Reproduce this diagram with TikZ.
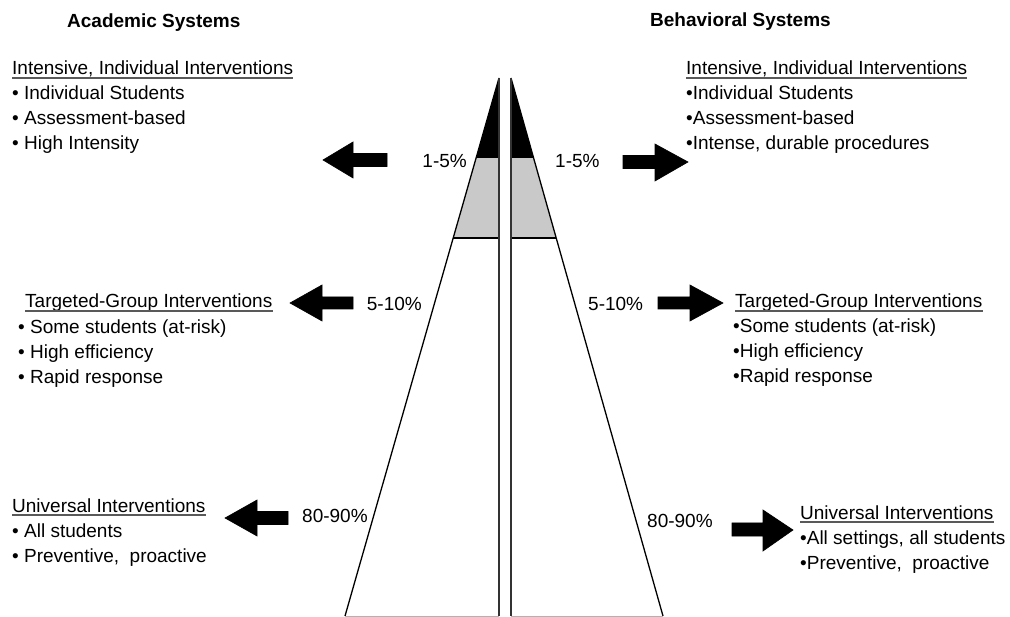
\documentclass[tikz,border=0pt]{standalone}
\usepackage{fontspec}
\setmainfont{Liberation Sans}
\begin{document}
\begin{tikzpicture}[x=1pt,y=-1pt,
  txt/.style={anchor=base west, inner sep=0pt, font=\fontsize{19}{22}\selectfont},
  txte/.style={anchor=base east, inner sep=0pt, font=\fontsize{19}{22}\selectfont},
  ttl/.style={anchor=base west, inner sep=0pt, font=\fontsize{19}{22}\selectfont\bfseries},
  uline/.style={draw=black!65, line width=1.3pt},
  edge/.style={draw=black, line width=1.3pt, line join=miter},
  inner/.style={draw=black!80, line width=2pt},
  barrow/.style={fill=black, draw=black, line width=0.6pt, line join=miter}]
\useasboundingbox (0,0) rectangle (1010,617);

% ---- pyramid, left half ----
\fill[black] (499,78) -- (499,157) -- (476.4,157) -- cycle;
\fill[black!21] (476.4,157) -- (499,157) -- (499,238) -- (453.2,238) -- cycle;
\draw[edge] (499,78) -- (345,616);
\draw[edge] (476.4,157) -- (499,157);
\draw[edge] (453.2,238) -- (499,238);
\draw[inner] (499,78) -- (499,616);
\draw[black!30, line width=1pt] (345,616) -- (499,616);
% ---- pyramid, right half ----
\fill[black] (511,78) -- (511,157) -- (533.3,157) -- cycle;
\fill[black!21] (533.3,157) -- (511,157) -- (511,238) -- (556.2,238) -- cycle;
\draw[edge] (511,78) -- (663,616);
\draw[edge] (533.3,157) -- (511,157);
\draw[edge] (556.2,238) -- (511,238);
\draw[inner] (511,78) -- (511,616);
\draw[black!30, line width=1pt] (511,616) -- (663,616);

% ---- titles ----
\node[ttl] (tA) at (67,28) {Academic Systems};
\node[ttl] (tB) at (650,27) {Behavioral Systems};

% ---- percentages ----
\node[txte] (pL1) at (467,168) {1-5\%};
\node[txt]  (pR1) at (555,168) {1-5\%};
\node[txte] (pL2) at (422,311) {5-10\%};
\node[txt]  (pR2) at (588,311) {5-10\%};
\node[txt]  (pL3) at (302,522) {80-90\%};
\node[txt]  (pR3) at (647,527) {80-90\%};

% ---- left texts ----
\node[txt] (hL1) at (12,75) {Intensive, Individual Interventions};
\draw[uline] ([yshift=-3pt]hL1.base west) -- ([yshift=-3pt]hL1.base east);
\node[txt] (aL1) at (12,100) {• Individual Students};
\node[txt] (aL2) at (12,125) {• Assessment-based};
\node[txt] (aL3) at (12,150) {• High Intensity};

\node[txt] (hL2) at (25,308) {Targeted-Group Interventions};
\draw[uline] ([yshift=-3pt]hL2.base west) -- ([yshift=-3pt]hL2.base east);
\node[txt] (bL1) at (18,334) {• Some students (at-risk)};
\node[txt] (bL2) at (18,359) {• High efficiency};
\node[txt] (bL3) at (18,384) {• Rapid response};

\node[txt] (hL3) at (12,512) {Universal Interventions};
\draw[uline] ([yshift=-3pt]hL3.base west) -- ([yshift=-3pt]hL3.base east);
\node[txt] (cL1) at (12,537) {• All students};
\node[txt] (cL2) at (12,562) {• Preventive,\ \ proactive};

% ---- right texts ----
\node[txt] (hR1) at (686,75) {Intensive, Individual Interventions};
\draw[uline] ([yshift=-3pt]hR1.base west) -- ([yshift=-3pt]hR1.base east);
\node[txt] (aR1) at (686,100) {•Individual Students};
\node[txt] (aR2) at (686,125) {•Assessment-based};
\node[txt] (aR3) at (686,150) {•Intense, durable procedures};

\node[txt] (hR2) at (735,308) {Targeted-Group Interventions};
\draw[uline] ([yshift=-3pt]hR2.base west) -- ([yshift=-3pt]hR2.base east);
\node[txt] (bR1) at (733,333) {•Some students (at-risk)};
\node[txt] (bR2) at (733,358) {•High efficiency};
\node[txt] (bR3) at (733,383) {•Rapid response};

\node[txt] (hR3) at (800,519) {Universal Interventions};
\draw[uline] ([yshift=-3pt]hR3.base west) -- ([yshift=-3pt]hR3.base east);
\node[txt] (cR1) at (800,544) {•All settings, all students};
\node[txt] (cR2) at (800,569) {•Preventive,\ \ proactive};

% ---- block arrows ----
% left-pointing
\filldraw[barrow] (323,160) -- (353,142) -- (353,153.5) -- (387,153.5) -- (387,166.5) -- (353,166.5) -- (353,178) -- cycle;
\filldraw[barrow] (290,303) -- (322,285) -- (322,297) -- (353,297) -- (353,309) -- (322,309) -- (322,321) -- cycle;
\filldraw[barrow] (225,518) -- (257,500) -- (257,511.5) -- (288,511.5) -- (288,524.5) -- (257,524.5) -- (257,536) -- cycle;
% right-pointing
\filldraw[barrow] (688,162) -- (655,144) -- (655,155.5) -- (623,155.5) -- (623,168.5) -- (655,168.5) -- (655,181) -- cycle;
\filldraw[barrow] (723,303) -- (690,285) -- (690,297) -- (658,297) -- (658,309) -- (690,309) -- (690,321) -- cycle;
\filldraw[barrow] (793,530) -- (763,510) -- (763,523) -- (732,523) -- (732,536) -- (763,536) -- (763,551) -- cycle;
\end{tikzpicture}
\end{document}
